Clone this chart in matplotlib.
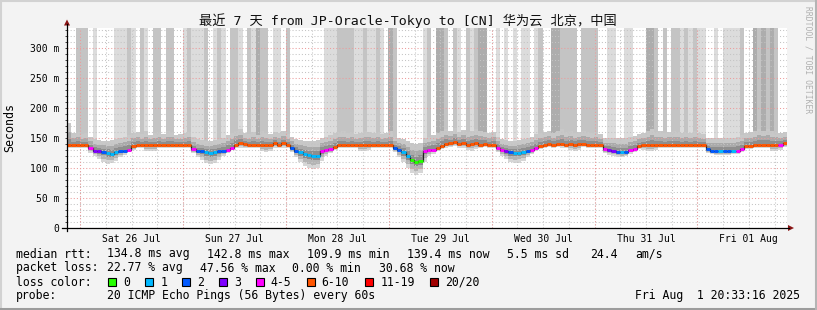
import numpy as np
import matplotlib
matplotlib.use('Agg')
import matplotlib.pyplot as plt
from matplotlib.patches import Rectangle, Polygon
from matplotlib.ticker import MultipleLocator

plt.rcParams['font.family'] = ['DejaVu Sans Mono', 'Noto Sans CJK SC']

W, H = 817, 310

# hourly samples, first hour starts 25 Jul ~20:54 (hours counted from 25 Jul 00:00)
T0 = 20.9

# median rtt (ms) per hour
med = [138, 138, 138, 138, 138, 133, 129, 128, 127, 125, 124, 126,
       128, 129, 130, 136, 138, 138, 138, 138, 138, 138, 138, 138,
       138, 138, 138, 138, 138, 131, 128, 128, 126, 125, 126, 128,
       128, 130, 134, 139, 142, 140, 138, 138, 138, 138, 138, 138,
       141, 138, 141, 138, 133, 129, 126, 124, 122, 120, 120, 129,
       130, 131, 135, 138, 138, 138, 138, 138, 138, 138, 138, 138,
       138, 138, 138, 138, 133, 130, 126, 120, 113, 110, 112, 129,
       130, 130, 134, 137, 140, 141, 143, 140, 141, 139, 140, 141,
       139, 140, 138, 139, 134, 130, 128, 126, 125, 125, 126, 128,
       130, 134, 137, 139, 140, 139, 140, 140, 139, 140, 139, 140,
       140, 139, 139, 139, 138, 131, 130, 129, 127, 126, 127, 130,
       132, 136, 138, 138, 138, 138, 138, 138, 138, 138, 138, 138,
       138, 138, 138, 138, 138, 131, 129, 128, 128, 128, 128, 129,
       129, 131, 136, 137, 138, 138, 139, 138, 138, 139, 139, 141]

# lost pings out of 20 per hour
loss = [7, 7, 7, 7, 7, 5, 3, 3, 2, 1, 1, 1,
        2, 2, 4, 7, 7, 7, 7, 7, 7, 7, 7, 7,
        7, 7, 7, 7, 7, 4, 2, 2, 1, 1, 1, 2,
        2, 4, 5, 7, 7, 7, 7, 7, 7, 7, 7, 7,
        7, 7, 7, 7, 2, 2, 1, 1, 1, 1, 1, 4,
        4, 5, 6, 7, 7, 7, 7, 7, 7, 7, 7, 7,
        7, 7, 7, 7, 2, 2, 1, 1, 0, 0, 0, 4,
        4, 5, 6, 7, 7, 7, 7, 7, 7, 7, 7, 7,
        7, 7, 7, 7, 4, 4, 3, 2, 1, 1, 1, 2,
        4, 5, 7, 7, 7, 7, 7, 7, 7, 7, 7, 7,
        7, 7, 7, 7, 7, 4, 3, 3, 2, 1, 2, 4,
        4, 6, 7, 7, 7, 7, 7, 7, 7, 7, 7, 7,
        7, 7, 7, 7, 7, 2, 2, 2, 1, 2, 2, 1,
        4, 4, 7, 7, 7, 7, 7, 7, 7, 7, 5, 7]

# fastest ping per hour (bottom of the smoke)
lo = [133, 134, 133, 134, 134, 125, 120, 115, 110, 107, 108, 112,
      118, 122, 126, 130, 134, 133, 128, 128, 129, 133, 134, 133,
      134, 133, 134, 133, 134, 125, 118, 113, 108, 106, 108, 114,
      120, 125, 130, 133, 134, 133, 134, 133, 134, 128, 127, 129,
      134, 133, 134, 133, 126, 118, 110, 104, 100, 98, 100, 112,
      120, 125, 130, 134, 133, 134, 133, 134, 129, 128, 130, 134,
      133, 134, 133, 134, 126, 118, 110, 100, 92, 88, 92, 110,
      120, 124, 128, 132, 134, 135, 136, 134, 134, 130, 129, 131,
      134, 135, 133, 134, 126, 120, 115, 110, 108, 109, 112, 118,
      123, 128, 132, 134, 135, 134, 135, 134, 134, 130, 129, 130,
      135, 134, 134, 134, 133, 125, 122, 120, 118, 118, 120, 124,
      127, 131, 130, 129, 129, 130, 134, 133, 134, 133, 134, 133,
      134, 133, 134, 133, 134, 125, 123, 122, 122, 122, 122, 123,
      124, 127, 131, 132, 134, 133, 134, 134, 129, 128, 130, 135]

# top of the dense smoke per hour
hi = [175, 158, 160, 156, 158, 152, 148, 146, 145, 145, 146, 148,
      150, 152, 155, 158, 160, 156, 162, 155, 158, 160, 156, 162,
      160, 155, 156, 158, 160, 152, 148, 146, 145, 145, 146, 148,
      150, 155, 158, 162, 165, 158, 156, 160, 155, 162, 158, 156,
      160, 158, 162, 156, 152, 148, 146, 145, 145, 145, 146, 150,
      152, 155, 158, 160, 162, 158, 160, 156, 158, 162, 160, 158,
      160, 156, 158, 162, 152, 150, 148, 145, 142, 140, 142, 150,
      152, 155, 158, 162, 165, 162, 166, 160, 164, 160, 162, 165,
      162, 160, 158, 160, 152, 148, 146, 145, 145, 146, 148, 150,
      152, 156, 158, 160, 162, 158, 162, 165, 160, 162, 158, 160,
      162, 160, 158, 160, 156, 150, 150, 150, 150, 150, 150, 152,
      154, 156, 158, 162, 165, 160, 162, 158, 160, 162, 160, 158,
      160, 158, 162, 158, 156, 150, 150, 150, 150, 150, 150, 150,
      152, 155, 158, 160, 162, 165, 162, 165, 162, 160, 158, 160]

# shade of the off-scale outliers (0 none, 1 single ping .. 3 many pings)
lvl = [0, 0, 2, 2, 2, 0, 1, 0, 0, 0, 0, 1,
       1, 1, 2, 1, 0, 2, 1, 0, 2, 2, 0, 2,
       2, 0, 0, 1, 2, 1, 1, 1, 2, 0, 1, 2,
       1, 0, 2, 2, 1, 0, 2, 1, 3, 2, 2, 0,
       1, 1, 0, 2, 0, 0, 0, 0, 0, 0, 0, 0,
       1, 1, 1, 2, 2, 2, 2, 1, 1, 2, 1, 1,
       2, 1, 0, 3, 2, 0, 0, 0, 0, 0, 0, 1,
       2, 0, 3, 3, 2, 0, 2, 1, 0, 2, 1, 2,
       3, 3, 0, 0, 1, 0, 1, 0, 1, 0, 1, 1,
       0, 1, 2, 0, 0, 3, 3, 2, 2, 2, 2, 0,
       2, 2, 2, 2, 0, 0, 1, 1, 0, 0, 1, 1,
       0, 0, 0, 3, 3, 2, 0, 2, 0, 2, 2, 1,
       2, 1, 2, 1, 1, 0, 0, 1, 0, 1, 1, 1,
       1, 2, 0, 0, 3, 2, 3, 2, 3, 2, 0, 0]

day_labels = ['Sat 26 Jul', 'Sun 27 Jul', 'Mon 28 Jul', 'Tue 29 Jul',
              'Wed 30 Jul', 'Thu 31 Jul', 'Fri 01 Aug']
ytick_vals = [0, 50, 100, 150, 200, 250, 300]
ytick_labels = ['0', '50 m', '100 m', '150 m', '200 m', '250 m', '300 m']

loss_names = ['0', '1', '2', '3', '4-5', '6-10', '11-19', '20/20']
loss_colors = ['#26ff00', '#00b8ff', '#0059ff', '#7e00ff',
               '#ff00ff', '#ff5500', '#ff0000', '#a10000']
shade_colors = ['#dcdcdc', '#c4c4c4', '#adadad']

title = '最近 7 天 from JP-Oracle-Tokyo to [CN] 华为云 北京，中国'
rtt_stats = ['134.8 ms avg', '142.8 ms max', '109.9 ms min', '139.4 ms now',
             '5.5 ms sd', '24.4', 'am/s']
loss_stats = ['22.77 % avg', '47.56 % max', '0.00 % min', '30.68 % now']
probe = '20 ICMP Echo Pings (56 Bytes) every 60s'
stamp = 'Fri Aug  1 20:33:16 2025'


def loss_idx(n):
    if n <= 3:
        return n
    if n <= 5:
        return 4
    if n <= 10:
        return 5
    if n <= 19:
        return 6
    return 7


fig = plt.figure(figsize=(W / 100, H / 100), dpi=100, facecolor='#f3f3f3')
ax = fig.add_axes([67 / W, (H - 228) / H, 720 / W, 200 / H])
ax.set_facecolor('white')
ax.set_xlim(T0, T0 + 168)
ax.set_ylim(0, 333.3)

t = T0 + np.arange(len(med))
m = np.array(med, float)
l = np.array(lo, float)
h = np.array(hi, float)
lv = np.array(lvl)

# smoke below median: light far away, dark near the median
for f0, f1, c in [(0, 1 / 3, '#d6d6d6'), (1 / 3, 2 / 3, '#b4b4b4'), (2 / 3, 1, '#8a8a8a')]:
    b0 = l + (m - l) * f0
    b1 = l + (m - l) * f1
    ax.bar(t, b1 - b0, bottom=b0, width=1, align='edge', color=c, lw=0, zorder=1)
# smoke above median
for f0, f1, c in [(0, 0.3, '#8e8e8e'), (0.3, 0.6, '#aaaaaa'), (0.6, 1, '#c8c8c8')]:
    b0 = m + (h - m) * f0
    b1 = m + (h - m) * f1
    ax.bar(t, b1 - b0, bottom=b0, width=1, align='edge', color=c, lw=0, zorder=1)
# outliers above the scale
for k in (1, 2, 3):
    sel = lv == k
    ax.bar(t[sel], 400 - h[sel], bottom=h[sel], width=1, align='edge',
           color=shade_colors[k - 1], lw=0, zorder=1)

# median line, coloured by loss
ax.stairs(m, np.append(t, t[-1] + 1), baseline=None, color='#202020', lw=0.9, zorder=3)
ax.hlines(m, t, t + 1, colors=[loss_colors[loss_idx(n)] for n in loss], lw=2.1, zorder=4)

# grid
ax.set_axisbelow(False)
ax.set_yticks(ytick_vals, labels=ytick_labels)
ax.yaxis.set_minor_locator(MultipleLocator(10))
ax.yaxis.grid(True, which='major', color='#ec9c9c', ls=(0, (1, 2)), lw=0.75)
ax.yaxis.grid(True, which='minor', color='#c4c4c4', ls=(0, (1, 2)), lw=0.75)
noon = [36 + 24 * k for k in range(len(day_labels))]
ax.set_xticks(noon, labels=day_labels)
ax.xaxis.set_minor_locator(MultipleLocator(6))
ax.xaxis.grid(True, which='both', color='#c4c4c4', ls=(0, (1, 2)), lw=0.75)
ax.vlines([24 * k for k in range(1, 8)], 0, 333.3, colors='#ec9c9c',
          linestyles=(0, (1, 2)), lw=0.75, zorder=2.6)

for s in ax.spines.values():
    s.set_visible(False)
ax.tick_params(axis='y', which='both', direction='out', length=1.6, width=0.7,
               color='#444444', pad=4, labelsize=7)
ax.tick_params(axis='x', which='both', length=0, pad=4, labelsize=7)

# overlay in pixel coordinates for frame, axes arrows and legend
ov = fig.add_axes([0, 0, 1, 1], facecolor='none', zorder=5)
ov.set_xlim(0, W)
ov.set_ylim(H, 0)
ov.axis('off')
ov.plot([1, W - 1], [1, 1], color='#d2d2d2', lw=1.5)
ov.plot([1, 1], [1, H - 1], color='#d2d2d2', lw=1.5)
ov.plot([0, W], [H - 1.5, H - 1.5], color='#9c9c9c', lw=2.2)
ov.plot([W - 1, W - 1], [0, H], color='#b4b4b4', lw=1.5)

ov.plot([62, 789], [228, 228], color='black', lw=0.9)
ov.plot([67, 67], [231, 24], color='black', lw=0.9)
ov.add_patch(Polygon([[788, 225], [794, 228], [788, 231]], color='#8b1515', lw=0))
ov.add_patch(Polygon([[64, 25.5], [67, 19.5], [70, 25.5]], color='#8b1515', lw=0))

ov.text(408, 21, title, ha='center', va='center', fontsize=9.5, color='#111111')
ov.text(10, 128, 'Seconds', rotation=90, ha='center', va='center', fontsize=8.4)
ov.text(808, 60, 'RRDTOOL / TOBI OETIKER', rotation=270, ha='center', va='center',
        fontsize=5.8, color='#b0b0b0')

fs = 8.3
ov.text(16, 254, 'median rtt:', va='center', fontsize=fs)
for x, s in zip([107.3, 207.3, 307.3, 407.3, 507.3, 590, 635], rtt_stats):
    ov.text(x, 254, s, va='center', fontsize=fs)
ov.text(16, 268, 'packet loss:', va='center', fontsize=fs)
for x, s in zip([107.3, 200, 292, 379], loss_stats):
    ov.text(x, 268, s, va='center', fontsize=fs)
ov.text(16, 282, 'loss color:', va='center', fontsize=fs)
for x, s, c in zip([108.5, 145.5, 182.5, 219.5, 256, 307, 365.5, 430.5],
                   loss_names, loss_colors):
    ov.add_patch(Rectangle((x, 277.7), 8, 8, facecolor=c, edgecolor='black', lw=0.8))
    ov.text(x + 14.7, 282, s, va='center', fontsize=fs)
ov.text(16, 296, 'probe:', va='center', fontsize=fs)
ov.text(107.3, 296, probe, va='center', fontsize=fs)
ov.text(800, 296, stamp, ha='right', va='center', fontsize=fs)

fig.savefig('out.png', dpi=100, facecolor=fig.get_facecolor())
